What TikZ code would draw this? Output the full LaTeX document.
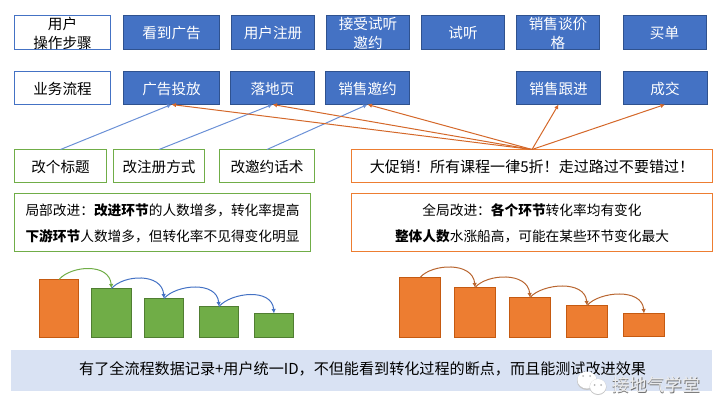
\documentclass[tikz,border=0pt]{standalone}
\usepackage{fontspec}
\setmainfont{Noto Sans CJK SC}
\usetikzlibrary{arrows.meta}
\definecolor{blueF}{HTML}{4472C4}
\definecolor{blueD}{HTML}{2F528F}
\definecolor{orangeF}{HTML}{ED7D31}
\definecolor{orangeD}{HTML}{C55A11}
\definecolor{greenF}{HTML}{70AD47}
\definecolor{greenD}{HTML}{507E32}
\definecolor{bandF}{HTML}{D9E2F3}
\definecolor{arcO}{HTML}{B8652F}
\definecolor{lineO}{HTML}{D4682A}
\definecolor{lineB}{HTML}{6A90D6}
\tikzset{
  basebox/.style={rectangle,inner sep=0pt,outer sep=0pt,line width=1pt,align=center,text depth=0pt,
    font=\fontsize{14.6}{18.5}\selectfont},
  bluebox/.style={basebox,draw=blueD,fill=blueF,text=white},
  labelbox/.style={basebox,draw=blueF,fill=white,text=black},
  greenbox/.style={basebox,draw=greenF,fill=white,text=black},
  orangebox/.style={basebox,draw=orangeF,fill=white,text=black},
  notebox/.style={font=\fontsize{13.7}{25.6}\selectfont},
  obar/.style={rectangle,anchor=south,inner sep=0pt,outer sep=0pt,line width=1pt,draw=orangeD,fill=orangeF},
  gbar/.style={rectangle,anchor=south,inner sep=0pt,outer sep=0pt,line width=1pt,draw=greenD,fill=greenF},
  tipped/.style={-{Latex[length=4.5pt,width=4.5pt]},line width=1pt},
  bluearrow/.style={tipped,draw=lineB},
  orangearrow/.style={tipped,draw=lineO},
  greenarc/.style={tipped,draw=greenF},
  bluearc/.style={tipped,draw=blueF},
  orangearc/.style={tipped,draw=arcO},
  wmark/.style={font=\fontsize{17.6}{18}\selectfont,inner sep=0pt},
}
\newcommand{\hop}[3]{\draw[#1] (#2.north) .. controls +(12,-14) and +(-2,-26) .. (#3.north);}
\begin{document}
\begin{tikzpicture}[x=1pt,y=-1pt]
\useasboundingbox (0,0) rectangle (725,417);
% row 1
\node[labelbox,minimum width=96pt,minimum height=33.5pt] (r1a) at (62.5,32.75) {用户\\操作步骤};
\node[bluebox,minimum width=96pt,minimum height=33.5pt] (r1b) at (171.5,32.75) {看到广告};
\node[bluebox,minimum width=83pt,minimum height=33.5pt] (r1c) at (273,32.75) {用户注册};
\node[bluebox,minimum width=83pt,minimum height=33.5pt] (r1d) at (368,32.75) {接受试听\\邀约};
\node[bluebox,minimum width=83pt,minimum height=33.5pt] (r1e) at (463,32.75) {试听};
\node[bluebox,minimum width=83pt,minimum height=33.5pt] (r1f) at (558,32.75) {销售谈价\\格};
\node[bluebox,minimum width=83pt,minimum height=33.5pt] (r1g) at (664.5,32.75) {买单};
% row 2
\node[labelbox,minimum width=96pt,minimum height=33pt] (r2a) at (62.5,88) {业务流程};
\node[bluebox,minimum width=96pt,minimum height=33pt] (r2b) at (171.5,88) {广告投放};
\node[bluebox,minimum width=84pt,minimum height=33pt] (r2c) at (272.5,88) {落地页};
\node[bluebox,minimum width=84pt,minimum height=33pt] (r2d) at (367.5,88) {销售邀约};
\node[bluebox,minimum width=84pt,minimum height=33pt] (r2e) at (558.5,88) {销售跟进};
\node[bluebox,minimum width=84pt,minimum height=33pt] (r2f) at (665,88) {成交};
% row 3
\node[greenbox,minimum width=92pt,minimum height=33pt] (r3a) at (60.5,166) {改个标题};
\node[greenbox,minimum width=91pt,minimum height=33pt] (r3b) at (159,166) {改注册方式};
\node[greenbox,minimum width=95pt,minimum height=33pt] (r3c) at (267,166) {改邀约话术};
\node[orangebox,minimum width=361pt,minimum height=33pt,font=\fontsize{15.05}{18.5}\selectfont] (r3d) at (532,166) {大促销！所有课程一律5折！走过路过不要错过！};
% connectors
\draw[bluearrow] (r3a.north) -- (r2b.south);
\draw[bluearrow] (r3b.north) -- (r2c.south);
\draw[bluearrow] (r3c.north) -- (r2d.south);
\draw[orangearrow] (r3d.north) -- (r2b.south);
\draw[orangearrow] (r3d.north) -- (r2c.south);
\draw[orangearrow] (r3d.north) -- (r2d.south);
\draw[orangearrow] (r3d.north) -- (r2e.south);
\draw[orangearrow] (r3d.north) -- (r2f.south);
% notes
\node[greenbox,notebox,align=left,minimum width=296pt,minimum height=58pt] (n1) at (162.5,222.4) {局部改进：\textbf{改进环节}的人数增多，转化率提高\\\textbf{下游环节}人数增多，但转化率不见得变化明显};
\node[orangebox,notebox,minimum width=361pt,minimum height=58pt] (n2) at (532,222.4) {全局改进：\textbf{各个环节}转化率均有变化\\\textbf{整体人数}水涨船高，可能在某些环节变化最大};
% left bars
\node[obar,minimum width=39pt,minimum height=58pt] (la) at (59,337.5) {};
\node[gbar,minimum width=40pt,minimum height=49pt] (lb) at (111.5,337.5) {};
\node[gbar,minimum width=39pt,minimum height=39pt] (lc) at (164,337.5) {};
\node[gbar,minimum width=39pt,minimum height=31pt] (ld) at (219,337.5) {};
\node[gbar,minimum width=39pt,minimum height=24pt] (le) at (274,337.5) {};
\hop{greenarc}{la}{lb}
\hop{bluearc}{lb}{lc}
\hop{bluearc}{lc}{ld}
\hop{bluearc}{ld}{le}
% right bars
\node[obar,minimum width=41pt,minimum height=60pt] (ra) at (420,337.5) {};
\node[obar,minimum width=41pt,minimum height=50pt] (rb) at (475,337.5) {};
\node[obar,minimum width=41pt,minimum height=40pt] (rc) at (530,337.5) {};
\node[obar,minimum width=41pt,minimum height=32pt] (rd) at (587,337.5) {};
\node[obar,minimum width=41pt,minimum height=23pt] (re) at (644,336.5) {};
\hop{orangearc}{ra}{rb}
\hop{orangearc}{rb}{rc}
\hop{orangearc}{rc}{rd}
\hop{orangearc}{rd}{re}
% banner
\node[rectangle,fill=bandF,inner sep=0pt,outer sep=0pt,minimum width=701pt,minimum height=41pt] (band) at (361.5,370.5) {};
\node[inner sep=0pt,anchor=west,font=\fontsize{15.1}{18}\selectfont] (bandtext) at (79,368.6) {有了全流程数据记录+用户统一ID，不但能看到转化过程的断点，而且能测试改进效果};
% watermark
\fill[gray!45] (587,381) ellipse (10pt and 9pt);
\fill[white] (587,380) ellipse (9.5pt and 8.5pt);
\fill[gray!45] (598,387) ellipse (8.5pt and 8pt);
\fill[white] (598,386.5) ellipse (8pt and 7.5pt);
\fill[gray!60] (594.5,385) circle (1pt) (601,385) circle (1pt);
\fill[gray!60] (583,376) circle (1pt) (590,376) circle (1pt);
\node[wmark,text=gray!90!black] (wm0) at (656.7,385.7) {接地气学堂};
\node[wmark,text=white!85!gray] (wm) at (656,385) {接地气学堂};
\end{tikzpicture}
\end{document}
